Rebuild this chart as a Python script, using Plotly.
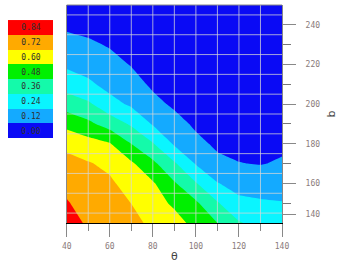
import plotly.graph_objects as go

# ---- data ----
theta = [40, 50, 60, 70, 80, 90, 100, 110, 120, 130, 140]
b_vals = [140, 150, 160, 170, 180, 190, 200, 210, 220, 230, 240, 250]
z_140 = [0.90, 0.82, 0.78, 0.76, 0.69, 0.65, 0.56, 0.48, 0.37, 0.32, 0.31]
z_150 = [0.85, 0.79, 0.76, 0.719, 0.652, 0.578, 0.50, 0.37, 0.27, 0.255, 0.246]
z_160 = [0.804, 0.76, 0.74, 0.669, 0.613, 0.492, 0.367, 0.245, 0.194, 0.184, 0.183]
z_170 = [0.756, 0.729, 0.693, 0.618, 0.507, 0.375, 0.232, 0.147, 0.123, 0.115, 0.131]
z_180 = [0.692, 0.647, 0.608, 0.479, 0.368, 0.225, 0.151, 0.10, 0.09, 0.09, 0.10]
z_190 = [0.564, 0.507, 0.429, 0.344, 0.230, 0.165, 0.10, 0.08, 0.07, 0.07, 0.08]
z_200 = [0.425, 0.380, 0.279, 0.222, 0.155, 0.10, 0.07, 0.06, 0.05, 0.05, 0.06]
z_210 = [0.310, 0.261, 0.204, 0.168, 0.10, 0.07, 0.05, 0.05, 0.04, 0.04, 0.04]
z_220 = [0.219, 0.194, 0.158, 0.114, 0.07, 0.05, 0.04, 0.04, 0.03, 0.03, 0.03]
z_230 = [0.159, 0.138, 0.111, 0.08, 0.05, 0.04, 0.03, 0.03, 0.03, 0.02, 0.02]
z_240 = [0.099, 0.086, 0.07, 0.05, 0.03, 0.03, 0.02, 0.02, 0.02, 0.02, 0.02]
z_250 = [0.04, 0.05, 0.04, 0.03, 0.02, 0.02, 0.02, 0.02, 0.02, 0.01, 0.01]

level_labels = ["0.00", "0.12", "0.24", "0.36", "0.48", "0.60", "0.72", "0.84"]
level_colors = ["#0A0AF5", "#14AAFF", "#0AF5FF", "#14FAAA", "#00F000",
                "#FFFF00", "#FFAA00", "#FF0000"]

x_ticks = [40, 60, 80, 100, 120, 140]
x_minor = [50, 70, 90, 110, 130]
y_tickvals = [144.5, 160, 180, 200, 220, 240]
y_ticktext = ["140", "160", "180", "200", "220", "240"]
y_minor = [150, 170, 190, 210, 230]
grid_x = [50, 60, 70, 80, 90, 100, 110, 120, 130]
grid_y = [145, 155, 165, 175, 185, 195, 205, 215, 225, 235, 245]

z = [z_140, z_150, z_160, z_170, z_180, z_190, z_200, z_210, z_220, z_230, z_240, z_250]

n = len(level_colors)
cscale = [[i / (n - 1), c] for i, c in enumerate(level_colors)]

fig = go.Figure()

fig.add_trace(go.Contour(
    x=theta, y=b_vals, z=z,
    colorscale=cscale, showscale=False,
    contours=dict(start=0.12, end=0.84, size=0.12, coloring="fill", showlines=False),
    line=dict(width=0, smoothing=0),
    hoverinfo="skip",
))

# grid lines drawn on top of the fill
gxs, gys = [], []
for gx in grid_x:
    gxs += [gx, gx, None]
    gys += [b_vals[0], b_vals[-1], None]
for gy in grid_y:
    gxs += [theta[0], theta[-1], None]
    gys += [gy, gy, None]
fig.add_trace(go.Scatter(x=gxs, y=gys, mode="lines",
                         line=dict(color="rgba(215,215,215,0.75)", width=1),
                         hoverinfo="skip", showlegend=False))

# legend as a discrete heatmap column
fig.add_trace(go.Heatmap(
    z=[[i] for i in range(n)], y=level_labels, x=[0],
    text=[[t] for t in level_labels], texttemplate="%{text}",
    textfont=dict(family="DejaVu Sans Mono", size=8, color="#303030"),
    colorscale=cscale, zmin=0, zmax=n - 1, showscale=False,
    xaxis="x2", yaxis="y2", hoverinfo="skip",
))

tickfont = dict(family="DejaVu Sans Mono", size=8, color="#8a7a7a")

fig.update_layout(
    width=343, height=268,
    margin=dict(l=8, r=10, t=5, b=45, autoexpand=False),
    paper_bgcolor="white", plot_bgcolor="white",
    showlegend=False,
    xaxis=dict(domain=[0.1806, 0.8431], range=[40, 140], tickmode="array",
               automargin=False,
               tickvals=x_ticks, ticks="outside", ticklen=13, tickcolor="#888",
               tickwidth=1, tickfont=tickfont, showgrid=False, zeroline=False,
               ticklabelstandoff=2,
               showline=True, linecolor="black", linewidth=1,
               minor=dict(tickvals=x_minor, ticks="outside", ticklen=7, tickcolor="#888"),
               title=dict(text="θ", font=dict(family="DejaVu Sans", size=11, color="#444"),
                          standoff=2)),
    yaxis=dict(domain=[0, 1], range=[140, 250], side="right", anchor="x",
               automargin=False,
               tickmode="array", tickvals=y_tickvals, ticktext=y_ticktext,
               ticks="outside", ticklen=13, tickcolor="#888", tickwidth=1,
               tickfont=tickfont, showgrid=False, zeroline=False,
               ticklabelstandoff=8,
               showline=True, linecolor="#888", linewidth=1, mirror=True,
               minor=dict(tickvals=y_minor, ticks="outside", ticklen=8, tickcolor="#777"),
               title=dict(text="b", font=dict(family="DejaVu Sans", size=11, color="#444"),
                          standoff=8)),
    xaxis2=dict(domain=[0, 0.1385], anchor="y2", visible=False, fixedrange=True,
                automargin=False),
    yaxis2=dict(domain=[0.390, 0.931], anchor="x2", visible=False, fixedrange=True,
                type="category", automargin=False),
    shapes=[dict(type="line", xref="x domain", yref="y domain", x0=0, x1=1, y0=1, y1=1,
                 line=dict(color="#888", width=1))],
)

fig.write_html("out.html", config={"displayModeBar": False},
               post_script="document.body.style.margin='0';")
